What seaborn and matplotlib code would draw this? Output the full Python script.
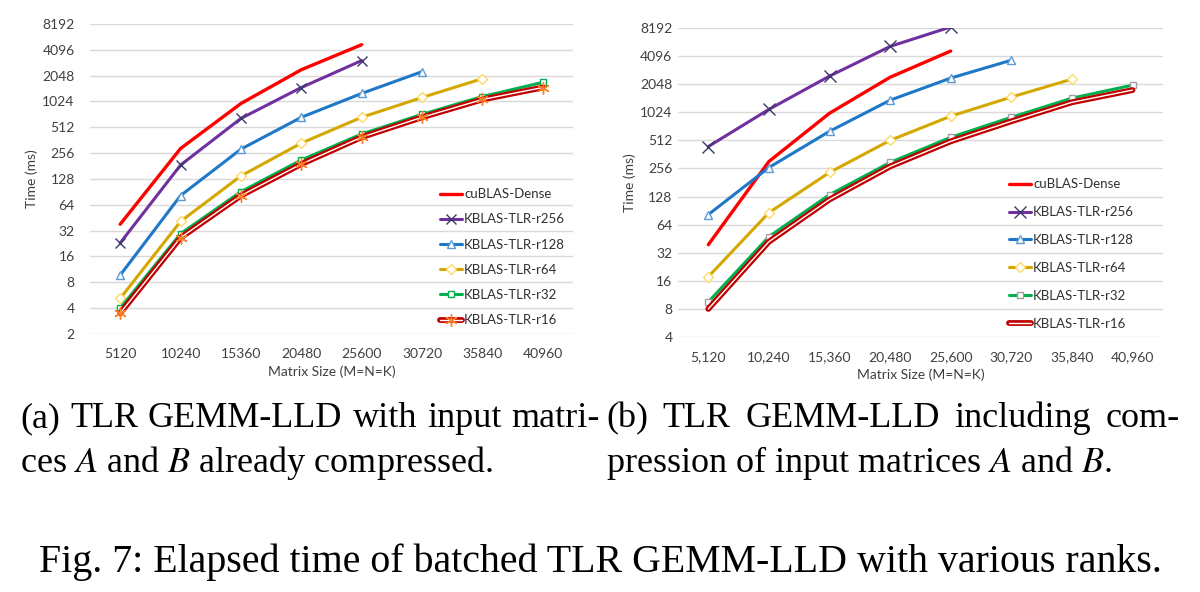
import numpy as np
import pandas as pd
import seaborn as sns
import matplotlib.pyplot as plt
from matplotlib.ticker import FixedLocator, NullLocator

# Czas batched TLR GEMM-LLD dla różnych rang

# === 1. Dane ===
sizes = [5120, 10240, 15360, 20480, 25600, 30720, 35840, 40960]
series_names = ["cuBLAS-Dense", "KBLAS-TLR-r256", "KBLAS-TLR-r128",
                "KBLAS-TLR-r64", "KBLAS-TLR-r32", "KBLAS-TLR-r16"]

# (a) macierze A i B już skompresowane
a_dense = [38, 290, 970, 2400, 4700]
a_r256 = [23, 186, 650, 1490, 3070]
a_r128 = [9.7, 82, 285, 670, 1270, 2280]
a_r64 = [5.2, 41, 139, 335, 670, 1140, 1890]
a_r32 = [4.0, 29.5, 91, 213, 428, 725, 1170, 1710]
a_r16 = [3.5, 26.5, 82, 191, 393, 670, 1080, 1490]

# (b) z kompresją macierzy wejściowych
b_dense = [39, 304, 1000, 2430, 4640]
b_r256 = [440, 1100, 2500, 5200, 8400]
b_r128 = [82, 262, 640, 1380, 2380, 3700]
b_r64 = [17.7, 86, 232, 512, 930, 1490, 2320]
b_r32 = [9.5, 47.6, 134, 297, 552, 905, 1450, 2000]
b_r16 = [8, 42, 119, 269, 500, 820, 1310, 1770]

y_ticks_a = [2, 4, 8, 16, 32, 64, 128, 256, 512, 1024, 2048, 4096, 8192]
y_ticks_b = [4, 8, 16, 32, 64, 128, 256, 512, 1024, 2048, 4096, 8192]


def to_long(values_list):
    rows = []
    for name, vals in zip(series_names, values_list):
        for s, v in zip(sizes, vals):
            rows.append({"size": s, "time": v, "series": name})
    return pd.DataFrame(rows)


df_a = to_long([a_dense, a_r256, a_r128, a_r64, a_r32, a_r16])
df_b = to_long([b_dense, b_r256, b_r128, b_r64, b_r32, b_r16])

# === 2. Style ===
sns.set_style("white")
plt.rcParams["font.family"] = ["Lato", "DejaVu Sans"]

style_a = {
    "cuBLAS-Dense": dict(color="#ff0000", lw=2.4),
    "KBLAS-TLR-r256": dict(color="#7030a0", lw=2.2, marker="x", ms=7, mec="#3a3a6a", mew=1.0),
    "KBLAS-TLR-r128": dict(color="#1f77c8", lw=2.2, marker="^", ms=6, mec="#5b9bd5", mfc="white", mew=1.0),
    "KBLAS-TLR-r64": dict(color="#d4a800", lw=2.2, marker="D", ms=5, mec="#ffd966", mfc="white", mew=1.0),
    "KBLAS-TLR-r32": dict(color="#00b050", lw=2.2, marker="s", ms=5, mec="#00b050", mfc="white", mew=1.0),
    "KBLAS-TLR-r16": dict(color="white", lw=1.0, marker=(6, 2, 0), ms=9, mec="#ff7f27", mew=1.0),
}
style_b = {
    "cuBLAS-Dense": dict(color="#ff0000", lw=2.4),
    "KBLAS-TLR-r256": dict(color="#7030a0", lw=2.2, marker="x", ms=8, mec="#3a3a6a", mew=1.0),
    "KBLAS-TLR-r128": dict(color="#1f77c8", lw=2.2, marker="^", ms=6, mec="#5b9bd5", mfc="white", mew=1.0),
    "KBLAS-TLR-r64": dict(color="#d4a800", lw=2.2, marker="D", ms=5, mec="#ffd966", mfc="white", mew=1.0),
    "KBLAS-TLR-r32": dict(color="#00b050", lw=2.2, marker="s", ms=5, mec="#a0a0a0", mfc="white", mew=1.0),
    "KBLAS-TLR-r16": dict(color="white", lw=1.0),
}

fig = plt.figure(figsize=(12, 5.92), dpi=100)
ax_a = fig.add_axes([0.075, 0.4358, 0.4025, 0.5237])
ax_b = fig.add_axes([0.565, 0.4307, 0.404, 0.522])


def draw_panel(ax, df, styles, y_ticks, tick_labels, ypad, legend_anchor, label_spacing):
    base = None
    for name in series_names:
        sub = df[df["series"] == name]
        if name == "KBLAS-TLR-r16":
            # podwójna linia: gruba czerwona + cienka biała w środku
            sns.lineplot(data=sub, x="size", y="time", ax=ax, label="_r16_base",
                         estimator=None, sort=False, color="#c00000", lw=4.2)
            base = ax.lines[-1]
        sns.lineplot(data=sub, x="size", y="time", ax=ax, label=name,
                     estimator=None, sort=False, **styles[name])
    ax.set_yscale("log", base=2)
    ax.set_ylim(y_ticks[0], y_ticks[-1])
    ax.yaxis.set_major_locator(FixedLocator(y_ticks))
    ax.yaxis.set_minor_locator(NullLocator())
    ax.set_yticklabels([str(t) for t in y_ticks])
    ax.set_xlim(sizes[0] - 2560, sizes[-1] + 2560)
    ax.set_xticks(sizes)
    ax.set_xticklabels(tick_labels)
    ax.grid(axis="y", color="#d9d9d9", lw=1.0)
    ax.set_axisbelow(True)
    for sp in ax.spines.values():
        sp.set_visible(False)
    ax.tick_params(axis="both", length=0, labelsize=10, colors="#404040")
    ax.tick_params(axis="x", pad=10)
    ax.tick_params(axis="y", pad=ypad)
    ax.set_xlabel("Matrix Size (M=N=K)", fontsize=10, color="#404040", labelpad=4)
    ax.set_ylabel("Time (ms)", fontsize=10, color="#404040", labelpad=3)

    handles, labels = ax.get_legend_handles_labels()
    handles = [(base, h) if lab == "KBLAS-TLR-r16" else h for h, lab in zip(handles, labels)]
    ax.legend(handles, labels, loc="lower left", bbox_to_anchor=legend_anchor, frameon=False,
              fontsize=9.5, handlelength=1.6, handletextpad=0.2,
              labelspacing=label_spacing, labelcolor="#303030", borderpad=0)


draw_panel(ax_a, df_a, style_a, y_ticks_a, [str(s) for s in sizes], 11,
           (0.712, 0.004), 1.0)
draw_panel(ax_b, df_b, style_b, y_ticks_b, [f"{s:,}" for s in sizes], 4,
           (0.67, 0.003), 1.2)

# === 3. Podpisy (justowane) ===
renderer = fig.canvas.get_renderer()
serif = ["Liberation Serif", "DejaVu Serif"]
sub_font = dict(family=serif, fontsize=26, color="black", math_fontfamily="stix")


def justified(words, x0, x1, y):
    texts = [fig.text(0, y, w, va="baseline", ha="left", **sub_font) for w in words]
    widths = [t.get_window_extent(renderer).width for t in texts]
    gap = ((x1 - x0) - sum(widths)) / (len(words) - 1)
    x = x0
    for t, w in zip(texts, widths):
        t.set_position((x / 1200, y))
        x += w + gap


justified(["(a)", "TLR", "GEMM-LLD", "with", "input", "matri-"], 20, 600, 1 - 427 / 592)
fig.text(20 / 1200, 1 - 472 / 592, "ces $\\mathit{A}$ and $\\mathit{B}$ already compressed.",
         va="baseline", ha="left", **sub_font)
justified(["(b)", "TLR", "GEMM-LLD", "including", "com-"], 606, 1180, 1 - 427 / 592)
fig.text(606 / 1200, 1 - 472 / 592, "pression of input matrices $\\mathit{A}$ and $\\mathit{B}$.",
         va="baseline", ha="left", **sub_font)
fig.text(0.5, 1 - 572 / 592, "Fig. 7: Elapsed time of batched TLR GEMM-LLD with various ranks.",
         va="baseline", ha="center", family=serif, fontsize=28.7, color="black")

fig.savefig("out.png", dpi=100)
